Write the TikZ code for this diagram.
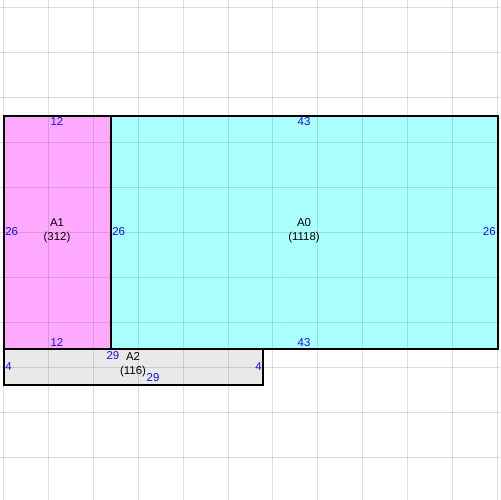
\documentclass[tikz,border=0pt]{standalone}
\usepackage{fontspec}
\setmainfont{Liberation Sans}
\definecolor{pinkfill}{HTML}{FFAAFF}
\definecolor{cyanfill}{HTML}{AAFFFF}
\definecolor{grayfill}{HTML}{E9E9E9}
\definecolor{dimblue}{HTML}{1010F0}
\tikzset{
  gridline/.style={black, opacity=0.13, line width=0.5pt},
  region/.style={draw=black, line width=0.6pt},
  dim/.style={text=dimblue, font=\fontsize{6.5}{7}\selectfont, inner sep=0pt},
  lab/.style={text=black, font=\fontsize{6.5}{7.8}\selectfont, align=center, inner sep=0pt},
}
\begin{document}
\begin{tikzpicture}[x=0.02cm, y=-0.02cm]
\useasboundingbox (0,0) rectangle (500,500);
\fill[white] (0,0) rectangle (500,500);
% fills
\fill[pinkfill] (4,116) rectangle (111,349);
\fill[cyanfill] (111,116) rectangle (498,349);
\fill[grayfill] (4,349) rectangle (263,385);
% grid
\foreach \k in {0,...,11} { \draw[gridline] ({3.5+44.9*\k},0) -- ({3.5+44.9*\k},500); }
\foreach \k in {0,...,11} { \draw[gridline] (0,{7+45*\k}) -- (500,{7+45*\k}); }
% outlines
\draw[region] (4,116) rectangle (111,349);
\draw[region] (111,116) rectangle (498,349);
\draw[region] (4,349) rectangle (263,385);
% labels
\node[lab] (a1) at (57,231) {A1\\(312)};
\node[lab] (a0) at (304,231) {A0\\(1118)};
\node[lab] (a2) at (133,365) {A2\\(116)};
\node[dim] (a1top) at (57,122) {12};
\node[dim] (a1bot) at (57,343) {12};
\node[dim, anchor=west] (a1left) at (5,232) {26};
\node[dim, anchor=west] (a1right) at (112,232) {26};
\node[dim] (a0top) at (304,122) {43};
\node[dim] (a0bot) at (304,343) {43};
\node[dim, anchor=east] (a0right) at (496,232) {26};
\node[dim] (a2top) at (113,356) {29};
\node[dim] (a2bot) at (153,378) {29};
\node[dim, anchor=west] (a2left) at (5,367) {4};
\node[dim, anchor=east] (a2right) at (262,367) {4};
\end{tikzpicture}
\end{document}
